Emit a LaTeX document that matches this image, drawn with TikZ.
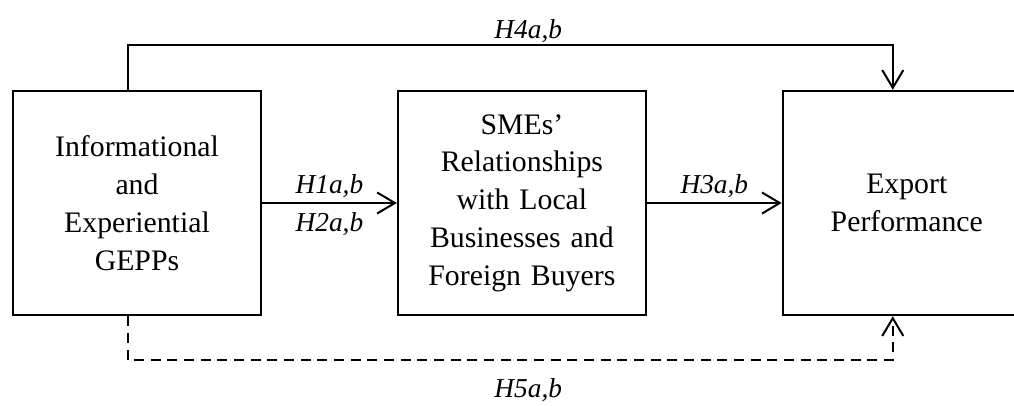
\documentclass[tikz,border=0pt]{standalone}
\usepackage{fontspec}
\setmainfont{Liberation Serif}
\usetikzlibrary{arrows.meta}
\tikzstyle{construct} = [rectangle, minimum width=109.5pt, minimum height=101pt, text width=105pt, align=center, draw=black, line width=0.9pt, font=\fontsize{13.4}{17}\selectfont]
\tikzstyle{hyp} = [font=\fontsize{12.3}{14}\selectfont\itshape, inner sep=2pt]
\tikzstyle{arrow} = [line width=0.9pt, -{Straight Barb[length=8pt,width=9.5pt]}]
\tikzstyle{dasharrow} = [arrow, dash pattern=on 4.5pt off 3pt]

\begin{document}
\begin{tikzpicture}[x=0.45pt, y=-0.45pt, node distance=173.2pt]
\useasboundingbox (0,0) rectangle (1014,405);

\node (gepp) [construct] at (137,203) {Informational\\and\\Experiential\\GEPPs};

\node (rel) [construct, right of=gepp] {SMEs'\\Relationships\\with Local\\Businesses and\\Foreign Buyers};

\node (exp) [construct, right of=rel] {Export\\Performance};

\draw [arrow] (gepp) -- node[hyp, above] (h1) {H1a,b} node[hyp, below, yshift=-2pt] (h2) {H2a,b} (rel);
\draw [arrow] (rel) -- node[hyp, above] (h3) {H3a,b} (exp);

% direct and moderated paths round the middle box
\draw [arrow] ([xshift=-4pt]gepp.north) -- ++(0,20.3pt) -| node[hyp, above, pos=0.25, xshift=8pt, inner sep=0.5pt] (h4) {H4a,b} ([xshift=-6.3pt]exp.north);
\draw [dasharrow] ([xshift=-4pt]gepp.south) -- ++(0,-19.8pt) -| node[hyp, below, pos=0.25, xshift=8pt, yshift=-6pt] (h5) {H5a,b} ([xshift=-6.3pt]exp.south);
\end{tikzpicture}
\end{document}
